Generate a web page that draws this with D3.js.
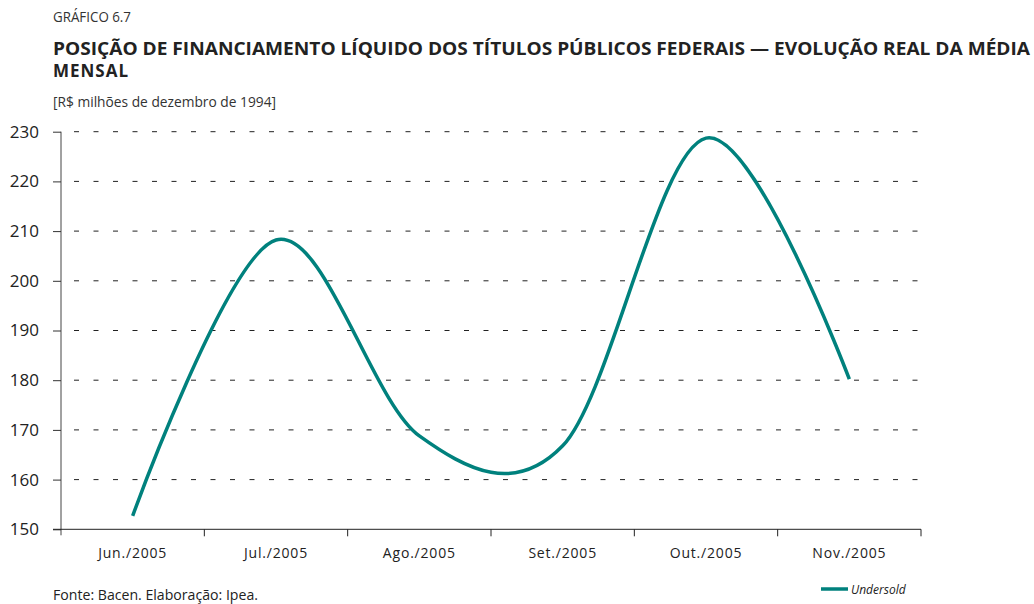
<!DOCTYPE html>
<html>
<head>
<meta charset="utf-8">
<script src="https://cdn.jsdelivr.net/npm/d3@7"></script>
<style>
  body { margin: 0; background: #fff; }
  svg { display: block; }
</style>
</head>
<body>
<div id="chart"></div>
<script>
const months = ['Jun./2005', 'Jul./2005', 'Ago./2005', 'Set./2005', 'Out./2005', 'Nov./2005']
const undersold = [152.7, 208.2, 168.8, 166.8, 228.7, 180.2]
const yTicks = [150, 160, 170, 180, 190, 200, 210, 220, 230]

const width = 1034
const height = 604
const teal = '#00817d'
const narrow = "'Open Sans', sans-serif"

let svg = d3.select('#chart')
  .append('svg')
  .attr('width', width)
  .attr('height', height)

// header
svg.append('text')
  .attr('x', 53).attr('y', 22)
  .attr('font-family', narrow)
  .attr('font-size', 15)
  .attr('textLength', 78)
  .attr('lengthAdjust', 'spacingAndGlyphs')
  .attr('fill', '#333')
  .text('GRÁFICO 6.7')

svg.append('text')
  .attr('x', 53).attr('y', 55)
  .attr('font-family', "'Open Sans', sans-serif")
  .attr('font-weight', 'bold')
  .attr('font-size', 17)
  .attr('fill', '#222')
  .attr('textLength', 977)
  .attr('lengthAdjust', 'spacingAndGlyphs')
  .text('POSIÇÃO DE FINANCIAMENTO LÍQUIDO DOS TÍTULOS PÚBLICOS FEDERAIS — EVOLUÇÃO REAL DA MÉDIA')

svg.append('text')
  .attr('x', 53).attr('y', 77)
  .attr('font-family', "'Open Sans', sans-serif")
  .attr('font-weight', 'bold')
  .attr('font-size', 17)
  .attr('fill', '#222')
  .attr('letter-spacing', 1)
  .text('MENSAL')

svg.append('text')
  .attr('x', 53).attr('y', 107)
  .attr('font-family', narrow)
  .attr('font-size', 15)
  .attr('textLength', 223)
  .attr('lengthAdjust', 'spacingAndGlyphs')
  .attr('fill', '#333')
  .text('[R$ milhões de dezembro de 1994]')

// scales
let x = d3.scaleBand().domain(months).range([61, 921])
let y = d3.scaleLinear().domain([150, 230]).range([529.3, 131.7])

// grid
svg.append('g')
  .selectAll('line')
  .data(yTicks.slice(1))
  .enter()
  .append('line')
  .attr('x1', 64).attr('x2', 928)
  .attr('y1', d => y(d)).attr('y2', d => y(d))
  .attr('stroke', '#222')
  .attr('stroke-width', 1)
  .attr('stroke-dasharray', '5,14.5')
  .attr('stroke-dashoffset', -10)

// y axis
let yAxis = d3.axisLeft(y)
  .tickValues(yTicks)
  .tickSize(8)
  .tickPadding(14)

let gy = svg.append('g')
  .attr('transform', 'translate(61,0)')
  .call(yAxis)
gy.select('.domain').attr('d', `M0,${y(230)}V${y(150) + 6}`).attr('stroke', '#444')
gy.selectAll('.tick line').attr('stroke', '#333')
gy.selectAll('.tick text')
  .attr('font-family', narrow)
  .attr('font-size', 17)
  .attr('fill', '#222')

// x axis
let gx = svg.append('g')
  .attr('transform', `translate(0,${y(150)})`)
gx.append('line')
  .attr('x1', 53).attr('x2', 921)
  .attr('stroke', '#222')
gx.selectAll('.xtick')
  .data(months)
  .enter()
  .append('line')
  .attr('class', 'xtick')
  .attr('x1', d => x(d) + x.bandwidth()).attr('x2', d => x(d) + x.bandwidth())
  .attr('y1', 0).attr('y2', 7)
  .attr('stroke', '#222')
gx.selectAll('.xlabel')
  .data(months)
  .enter()
  .append('text')
  .attr('class', 'xlabel')
  .attr('x', d => x(d) + x.bandwidth() / 2)
  .attr('y', 29)
  .attr('text-anchor', 'middle')
  .attr('font-family', narrow)
  .attr('font-size', 14)
  .attr('letter-spacing', 0.8)
  .attr('fill', '#222')
  .text(d => d)

// line
let line = d3.line()
  .x((d, i) => x(months[i]) + x.bandwidth() / 2)
  .y(d => y(d))
  .curve(d3.curveCardinal.tension(0))

svg.append('path')
  .datum(undersold)
  .attr('d', line)
  .attr('fill', 'none')
  .attr('stroke', teal)
  .attr('stroke-width', 3.5)

// legend
svg.append('line')
  .attr('x1', 821).attr('x2', 848)
  .attr('y1', 589).attr('y2', 589)
  .attr('stroke', teal)
  .attr('stroke-width', 3.5)
svg.append('text')
  .attr('x', 851).attr('y', 594)
  .attr('font-family', narrow)
  .attr('font-style', 'italic')
  .attr('font-size', 12)
  .attr('fill', '#222')
  .text('Undersold')

// source
svg.append('text')
  .attr('x', 53).attr('y', 600)
  .attr('font-family', narrow)
  .attr('font-size', 14)
  .attr('textLength', 205)
  .attr('lengthAdjust', 'spacingAndGlyphs')
  .attr('fill', '#222')
  .text('Fonte: Bacen. Elaboração: Ipea.')
</script>
</body>
</html>
